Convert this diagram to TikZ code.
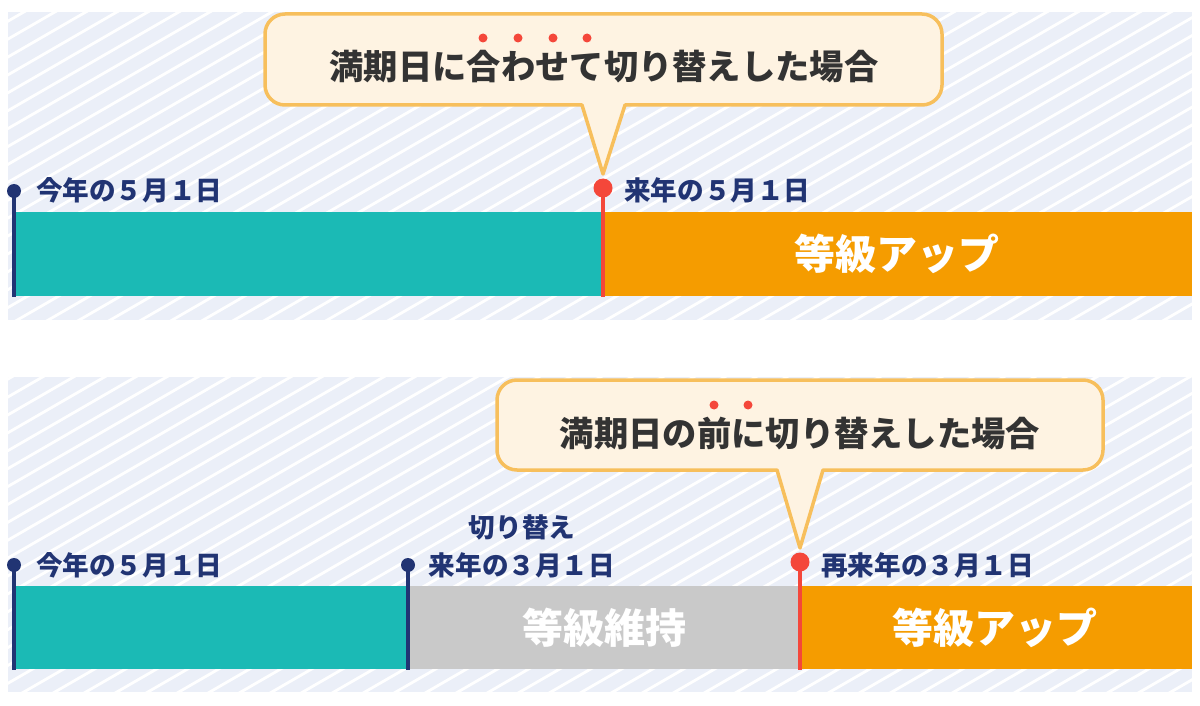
\documentclass[tikz,border=0pt]{standalone}
\usepackage{fontspec}
\newfontfamily\jp{Noto Sans CJK JP}
\definecolor{panelbg}{HTML}{EBEFF8}
\definecolor{tealbar}{HTML}{1BBAB5}
\definecolor{orangebar}{HTML}{F59C00}
\definecolor{graybar}{HTML}{C9C9C9}
\definecolor{navy}{HTML}{213473}
\definecolor{redmark}{HTML}{F4473A}
\definecolor{calloutfill}{HTML}{FEF3E2}
\definecolor{calloutdraw}{HTML}{F7BF5C}
\definecolor{darktext}{HTML}{333333}
\tikzset{
  stripe/.style={white, line width=2.8pt},
  lbl/.style={inner sep=0pt, text=navy, font=\jp\bfseries\fontsize{26.6}{28}\selectfont},
  bartext/.style={inner sep=0pt, text=white, font=\jp\bfseries\fontsize{41}{44}\selectfont},
  ctext/.style={inner sep=0pt, text=darktext, font=\jp\bfseries\fontsize{34.3}{36}\selectfont},
  callout/.style={fill=calloutfill, draw=calloutdraw, line width=3.5pt, line join=round},
  navyline/.style={draw=navy, line width=4.2pt},
  redline/.style={draw=redmark, line width=4.2pt},
  emdot/.style={fill=redmark}
}
\begin{document}
\begin{tikzpicture}[x=1pt,y=-1pt]
\useasboundingbox (0,0) rectangle (1200,706);
% panel backgrounds with stripes
\begin{scope}
  \clip (8,12) rectangle (1192,320);
  \fill[panelbg] (8,12) rectangle (1192,320);
  \foreach \i in {-22,...,40} \draw[stripe] ({\i*31},330) -- ++(700,-404.1);
\end{scope}
\begin{scope}
  \clip (8,377) rectangle (1192,692);
  \fill[panelbg] (8,377) rectangle (1192,692);
  \foreach \i in {-22,...,40} \draw[stripe] ({\i*31+10},700) -- ++(700,-404.1);
\end{scope}

% ===== Panel 1 =====
\fill[tealbar] (14,212) rectangle (603,296);
\fill[orangebar] (603,212) rectangle (1192,296);
\node[bartext] (up1) at (897,254) {等級アップ};

\coordinate (a1top) at (14,191);
\coordinate (a1bot) at (14,297);
\draw[navyline] (a1top) -- (a1bot);
\fill[navy] (a1top) circle (7);
\node[lbl, anchor=west] (lab1) at (36,190) {今年の５月１日};

\coordinate (b1top) at (603,188);
\coordinate (b1bot) at (603,297);
\draw[redline] (b1top) -- (b1bot);

\draw[callout] (603,174) -- (582,105) [rounded corners=20pt] -- (265,105) -- (265,14) -- (942,14) -- (942,105) [sharp corners] -- (625,105) -- cycle;
\fill[redmark] (b1top) circle (9.5);
\node[lbl, anchor=west] (lab2) at (624,190) {来年の５月１日};
\node[ctext] (c1) at (604,67) {満期日に合わせて切り替えした場合};
\foreach \x in {483,518,553,587} \fill[emdot] (\x,38) circle (4.5);

% ===== Panel 2 =====
\fill[tealbar] (14,586) rectangle (408,669);
\fill[graybar] (408,586) rectangle (800,669);
\fill[orangebar] (800,586) rectangle (1192,669);
\node[bartext] (keep) at (604,628) {等級維持};
\node[bartext] (up2) at (995,628) {等級アップ};

\coordinate (a2top) at (14,565);
\coordinate (a2bot) at (14,670);
\draw[navyline] (a2top) -- (a2bot);
\fill[navy] (a2top) circle (7);
\node[lbl, anchor=west] (lab3) at (36,565) {今年の５月１日};

\coordinate (s2top) at (408,565);
\coordinate (s2bot) at (408,670);
\draw[navyline] (s2top) -- (s2bot);
\fill[navy] (s2top) circle (7);
\node[lbl] (lab4a) at (522,527) {切り替え};
\node[lbl] (lab4b) at (522,565) {来年の３月１日};

\coordinate (b2top) at (800,562);
\coordinate (b2bot) at (800,670);
\draw[redline] (b2top) -- (b2bot);

\draw[callout] (800,548) -- (777,470) [rounded corners=20pt] -- (497,470) -- (497,380) -- (1103,380) -- (1103,470) [sharp corners] -- (823,470) -- cycle;
\fill[redmark] (b2top) circle (9.5);
\node[lbl, anchor=west] (lab5) at (821,565) {再来年の３月１日};
\node[ctext] (c2) at (800,434) {満期日の前に切り替えした場合};
\foreach \x in {714,748} \fill[emdot] (\x,405) circle (4.5);
\end{tikzpicture}
\end{document}
